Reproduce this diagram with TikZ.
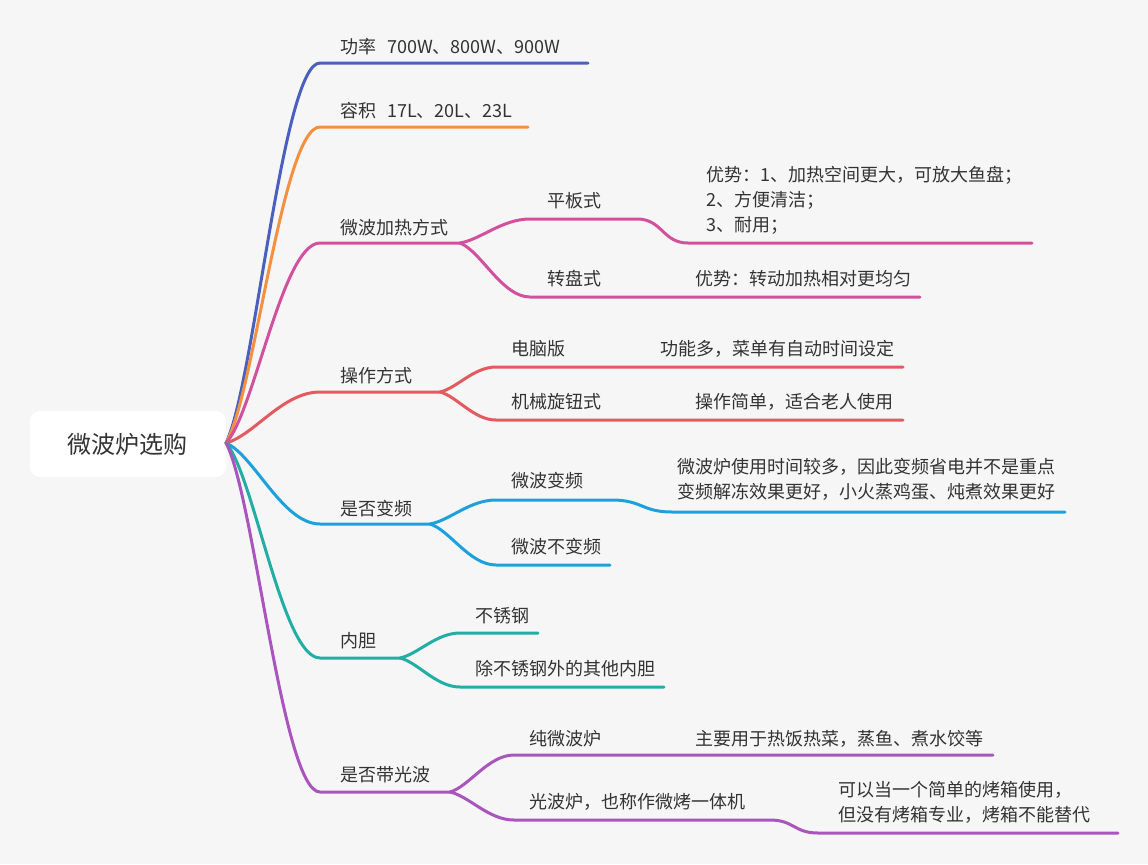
\documentclass[tikz,border=0pt]{standalone}
\usepackage{fontspec}
\setmainfont{Noto Sans CJK SC}
\usetikzlibrary{positioning, calc}

\definecolor{fondo}{HTML}{F6F6F7}
\definecolor{texto}{HTML}{333333}
\definecolor{cazul}{HTML}{4B5FBE}
\definecolor{cnaranja}{HTML}{F39140}
\definecolor{crosa}{HTML}{D2519D}
\definecolor{crojo}{HTML}{E35A5F}
\definecolor{ccielo}{HTML}{1DA1DC}
\definecolor{cverde}{HTML}{22ADA5}
\definecolor{cmorado}{HTML}{A955BD}

\tikzset{
  txt/.style={anchor=west, inner sep=0pt, text=texto, font=\fontsize{9}{12.5}\selectfont, align=left},
  rama/.style={line width=1.5pt, line cap=round},
  curva/.style={to path={let \p1=(\tikztostart), \p2=(\tikztotarget) in
      .. controls ({\x1+0.3*(\x2-\x1)},{\y1+0.15*(\y2-\y1)}) and ({\x1+0.6*(\x2-\x1)},\y2) .. (\tikztotarget)}},
  escalon/.style={to path={let \p1=(\tikztostart), \p2=(\tikztotarget) in
      .. controls ({0.5*\x1+0.5*\x2},\y1) and ({0.5*\x1+0.5*\x2},\y2) .. (\tikztotarget)}}
}

\begin{document}
\begin{tikzpicture}[x=0.5pt, y=-0.5pt]
  % Fondo y marco
  \fill[fondo] (0,0) rectangle (1148,864);
  \useasboundingbox (0,0) rectangle (1148,864);

  % Tema central
  \fill[white, rounded corners=5pt] (30,411) rectangle (226,477);
  \node[inner sep=0pt, text=texto, font=\fontsize{12}{14}\selectfont] (raiz) at (128,444) {微波炉选购};
  \coordinate (r) at (226,443);

  % Textos de primer nivel
  \node[txt] (b1) at (340,47) {功率\hspace{0.6em}700W、800W、900W};
  \node[txt] (b2) at (340,111) {容积\hspace{0.6em}17L、20L、23L};
  \node[txt] (b3) at (340,228) {微波加热方式};
  \node[txt] (b4) at (340,376) {操作方式};
  \node[txt] (b5) at (340,509) {是否变频};
  \node[txt] (b6) at (340,641) {内胆};
  \node[txt] (b7) at (340,775) {是否带光波};

  % Textos de segundo nivel
  \node[txt] (pl) at (547,201) {平板式};
  \node[txt] (zp) at (547,279) {转盘式};
  \node[txt] (dn) at (511,349) {电脑版};
  \node[txt] (jx) at (511,402) {机械旋钮式};
  \node[txt] (bp) at (511,481) {微波变频};
  \node[txt] (bb) at (511,547) {微波不变频};
  \node[txt] (bx) at (475,616) {不锈钢};
  \node[txt] (qt) at (475,669) {除不锈钢外的其他内胆};
  \node[txt] (cw) at (529,739) {纯微波炉};
  \node[txt] (gb) at (529,802) {光波炉，也称作微烤一体机};

  % Notas
  \node[txt] (plN) at (706,200) {优势：1、加热空间更大，可放大鱼盘；\\2、方便清洁；\\3、耐用；};
  \node[txt] (zpN) at (695,279) {优势：转动加热相对更均匀};
  \node[txt] (dnN) at (660,349) {功能多，菜单有自动时间设定};
  \node[txt] (jxN) at (695,402) {操作简单，适合老人使用};
  \node[txt] (bpN) at (677,479.5) {微波炉使用时间较多，因此变频省电并不是重点\\变频解冻效果更好，小火蒸鸡蛋、炖煮效果更好};
  \node[txt] (cwN) at (695,739) {主要用于热饭热菜，蒸鱼、煮水饺等};
  \node[txt] (gbN) at (838,802) {可以当一个简单的烤箱使用，\\但没有烤箱专业，烤箱不能替代};

  % Puntos de las ramas
  \coordinate (b1s) at (320,63);  \coordinate (b1e) at (588,63);
  \coordinate (b2s) at (320,127); \coordinate (b2e) at (528,127);
  \coordinate (b3s) at (320,243); \coordinate (b3f) at (460,243);
  \coordinate (b4s) at (320,392); \coordinate (b4f) at (440,392);
  \coordinate (b5s) at (320,524); \coordinate (b5f) at (430,524);
  \coordinate (b6s) at (320,658); \coordinate (b6f) at (400,658);
  \coordinate (b7s) at (320,792); \coordinate (b7f) at (450,792);

  \coordinate (pls) at (530,219); \coordinate (plm) at (637,219);
  \coordinate (pln) at (688,243); \coordinate (ple) at (1032,243);
  \coordinate (zps) at (530,297); \coordinate (zpe) at (920,297);
  \coordinate (dns) at (496,367); \coordinate (dne) at (903,367);
  \coordinate (jxs) at (496,420); \coordinate (jxe) at (903,420);
  \coordinate (bps) at (496,500); \coordinate (bpm) at (612,500);
  \coordinate (bpn) at (672,512); \coordinate (bpe) at (1065,512);
  \coordinate (bbs) at (496,565); \coordinate (bbe) at (610,565);
  \coordinate (bxs) at (460,633); \coordinate (bxe) at (538,633);
  \coordinate (qts) at (460,687); \coordinate (qte) at (664,687);
  \coordinate (cws) at (514,755); \coordinate (cwe) at (993,755);
  \coordinate (gbs) at (514,820); \coordinate (gbm) at (770,820);
  \coordinate (gbn) at (818,833); \coordinate (gbe) at (1118,833);

  % Ramas
  \draw[rama, cazul] (r) to[curva] (b1s) -- (b1e);
  \draw[rama, cnaranja] (r) to[curva] (b2s) -- (b2e);
  \draw[rama, crosa] (r) to[curva] (b3s) -- (b3f);
  \draw[rama, crosa] (b3f) to[curva] (pls) -- (plm) to[escalon] (pln) -- (ple);
  \draw[rama, crosa] (b3f) to[curva] (zps) -- (zpe);
  \draw[rama, crojo] (r) to[curva] (b4s) -- (b4f);
  \draw[rama, crojo] (b4f) to[curva] (dns) -- (dne);
  \draw[rama, crojo] (b4f) to[curva] (jxs) -- (jxe);
  \draw[rama, ccielo] (r) to[curva] (b5s) -- (b5f);
  \draw[rama, ccielo] (b5f) to[curva] (bps) -- (bpm) to[escalon] (bpn) -- (bpe);
  \draw[rama, ccielo] (b5f) to[curva] (bbs) -- (bbe);
  \draw[rama, cverde] (r) to[curva] (b6s) -- (b6f);
  \draw[rama, cverde] (b6f) to[curva] (bxs) -- (bxe);
  \draw[rama, cverde] (b6f) to[curva] (qts) -- (qte);
  \draw[rama, cmorado] (r) to[curva] (b7s) -- (b7f);
  \draw[rama, cmorado] (b7f) to[curva] (cws) -- (cwe);
  \draw[rama, cmorado] (b7f) to[curva] (gbs) -- (gbm) to[escalon] (gbn) -- (gbe);
\end{tikzpicture}
\end{document}
